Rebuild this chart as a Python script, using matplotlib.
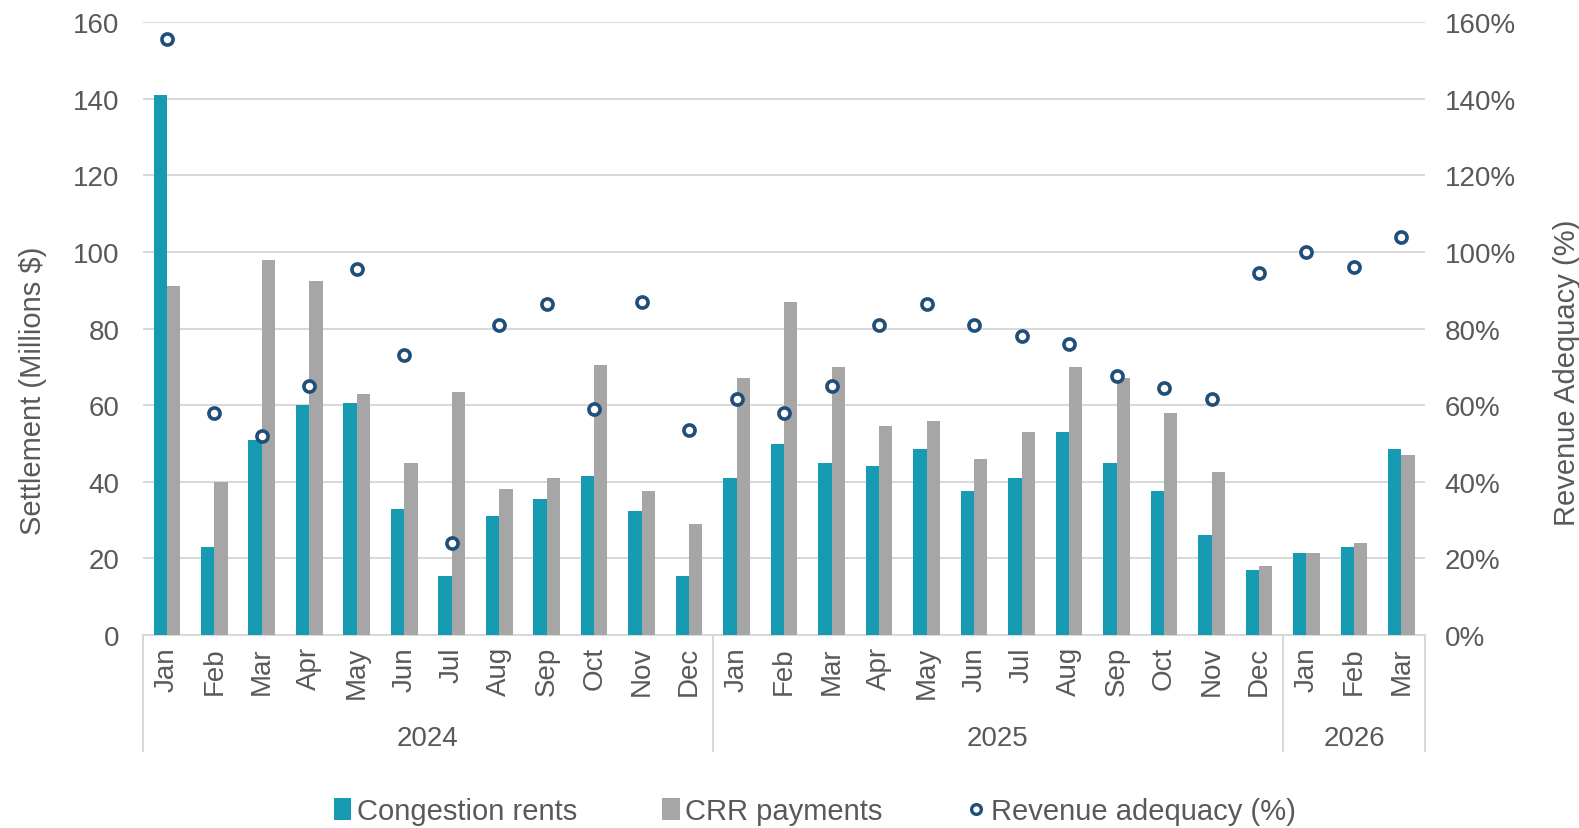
import matplotlib
matplotlib.use("Agg")
import matplotlib.pyplot as plt
import matplotlib.transforms as mtransforms
from matplotlib.lines import Line2D
from matplotlib.patches import Patch
import numpy as np

plt.rcParams['font.family'] = ['Liberation Sans', 'DejaVu Sans']

months = ["Jan", "Feb", "Mar", "Apr", "May", "Jun", "Jul", "Aug", "Sep", "Oct", "Nov", "Dec",
          "Jan", "Feb", "Mar", "Apr", "May", "Jun", "Jul", "Aug", "Sep", "Oct", "Nov", "Dec",
          "Jan", "Feb", "Mar"]
years = ["2024", "2025", "2026"]
year_counts = [12, 12, 3]

congestion_rents = [141, 23, 51, 60, 60.5, 33, 15.5, 31, 35.5, 41.5, 32.5, 15.5,
                    41, 50, 45, 44, 48.5, 37.5, 41, 53, 45, 37.5, 26, 17,
                    21.5, 23, 48.5]
crr_payments = [91, 40, 98, 92.5, 63, 45, 63.5, 38, 41, 70.5, 37.5, 29,
                67, 87, 70, 54.5, 56, 46, 53, 70, 67, 58, 42.5, 18,
                21.5, 24, 47]
revenue_adequacy = [155.5, 58, 52, 65, 95.5, 73, 24, 81, 86.5, 59, 87, 53.5,
                    61.5, 58, 65, 81, 86.5, 81, 78, 76, 67.5, 64.5, 61.5, 94.5,
                    100, 96, 104]

teal = "#169BB3"
gray = "#A6A6A6"
navy = "#1F4E79"
text_color = "#595959"

fig = plt.figure(figsize=(15.79, 8.29), dpi=100)
ax = fig.add_axes([0.0906, 0.2328, 0.812, 0.7392])
ax2 = ax.twinx()

x = np.arange(len(months))
w = 0.28
ax.bar(x - w / 2, congestion_rents, width=w, color=teal, zorder=3)
ax.bar(x + w / 2, crr_payments, width=w, color=gray, zorder=3)
ax2.plot(x, revenue_adequacy, linestyle="none", marker="o", markersize=8,
         markerfacecolor="white", markeredgecolor=navy, markeredgewidth=2.6, zorder=5)

ax.set_xlim(-0.5, len(months) - 0.5)
ax.set_ylim(0, 160)
ax2.set_ylim(0, 160)
ax.set_yticks(range(0, 161, 20))
ax2.set_yticks(range(0, 161, 20))
ax2.set_yticklabels([f"{v}%" for v in range(0, 161, 20)])

ax.grid(axis="y", color="#D9D9D9", linewidth=1.5, zorder=0)
ax.set_axisbelow(True)
for a in (ax, ax2):
    for s in ("left", "right", "top"):
        a.spines[s].set_visible(False)
    a.spines["bottom"].set_color("#D9D9D9")
    a.spines["bottom"].set_linewidth(1.5)
ax2.spines["bottom"].set_visible(False)

ax.tick_params(axis="y", length=0, labelsize=20, labelcolor=text_color, pad=17)
ax2.tick_params(axis="y", length=0, labelsize=20, labelcolor=text_color, pad=14)
ax.set_xticks(x)
ax.set_xticklabels(months, rotation=90, fontsize=20, color=text_color)
ax.tick_params(axis="x", length=0, pad=8)

ax.set_ylabel("Settlement (Millions $)", fontsize=21, color=text_color)
ax2.set_ylabel("Revenue Adequacy (%)", fontsize=21, color=text_color, rotation=90)
ax.yaxis.set_label_coords(-0.075, 0.40)
ax2.yaxis.set_label_coords(1.1, 0.43)

trans = mtransforms.blended_transform_factory(ax.transData, ax.transAxes)
start = -0.5
bounds = [start]
for yr, n in zip(years, year_counts):
    end = start + n
    ax.text((start + end) / 2, -0.168, yr, transform=trans, ha="center", va="center",
            fontsize=20, color=text_color)
    bounds.append(end)
    start = end
for b in bounds:
    ax.plot([b, b], [0, -0.19], transform=trans, color="#D9D9D9", linewidth=1.5,
            clip_on=False)

handles = [Patch(facecolor=teal, label="Congestion rents"),
           Patch(facecolor=gray, label="CRR payments"),
           Line2D([], [], linestyle="none", marker="o", markersize=7, markerfacecolor="white",
                  markeredgecolor=navy, markeredgewidth=2.4, label="Revenue adequacy (%)")]
fig.legend(handles=handles, loc="center", bbox_to_anchor=(0.516, 0.02), ncol=3,
           frameon=False, fontsize=21, handlelength=0.6, handleheight=0.8,
           handletextpad=0.2, columnspacing=2.9, labelcolor=text_color)

fig.savefig("out.png", dpi=100)
